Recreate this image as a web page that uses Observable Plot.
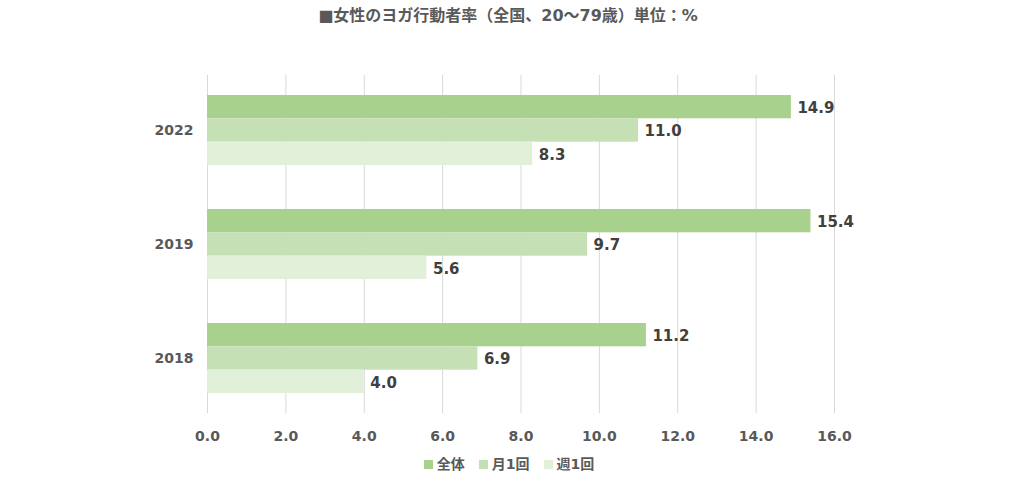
<!DOCTYPE html>
<html>
<head>
<meta charset="utf-8">
<script src="https://cdn.jsdelivr.net/npm/d3@7"></script>
<script src="https://cdn.jsdelivr.net/npm/@observablehq/plot@0.6"></script>
<style>
  html, body { margin: 0; padding: 0; background: #fff; }
  body { width: 1012px; height: 482px; overflow: hidden; font-family: "DejaVu Sans", "Noto Sans CJK JP", sans-serif; }
  #title { height: 32px; line-height: 32px; text-align: center; font-size: 16px; font-weight: bold; color: #595959; padding-left: 4px; }
  #legend { display: flex; justify-content: center; gap: 14px; font-size: 14px; font-weight: bold; color: #595959; height: 24px; line-height: 24px; padding-left: 6px; }
  #legend span.sw { display: inline-block; width: 9px; height: 9px; margin-right: 4px; vertical-align: 0px; }
  svg text { font-family: "DejaVu Sans", "Noto Sans CJK JP", sans-serif; }
</style>
</head>
<body>
<div id="title">■女性のヨガ行動者率（全国、20～79歳）単位：%</div>
<div id="chart"></div>
<div id="legend"></div>
<script>
const years = ["2022", "2019", "2018"];
const series = ["全体", "月1回", "週1回"];
const valuesAll = [14.9, 15.4, 11.2];
const valuesMonthly = [11.0, 9.7, 6.9];
const valuesWeekly = [8.3, 5.6, 4.0];
const colors = ["#A9D18E", "#C5E0B4", "#E2F0D9"];
const xTicks = [0, 2, 4, 6, 8, 10, 12, 14, 16];

const seriesValues = [valuesAll, valuesMonthly, valuesWeekly];
const rows = [];
series.forEach((s, i) => years.forEach((y, j) => rows.push({series: s, year: y, value: seriesValues[i][j], idx: i})));

const width = 1012, height = 420;
const marginTop = 43, marginBottom = 39, marginLeft = 207, marginRight = 178;
const pInner = 0.386, pOuter = 0.175;
const plotH = height - marginTop - marginBottom;
const step = plotH / (years.length - pInner + 2 * pOuter);
const bw = step * (1 - pInner);
const third = bw / 3;

const marks = [Plot.gridX(xTicks, {stroke: "#d9d9d9", strokeOpacity: 1})];
series.forEach((s, i) => {
  const data = rows.filter(d => d.series === s);
  marks.push(Plot.barX(data, {
    x: "value", y: "year", fill: colors[i],
    insetTop: i * third, insetBottom: (2 - i) * third
  }));
  marks.push(Plot.text(data, {
    x: "value", y: "year", text: d => d.value.toFixed(1),
    dx: 6, dy: (i - 1) * third + 1, textAnchor: "start",
    fill: "#404040", fontSize: 15, fontWeight: "bold"
  }));
});

const chart = Plot.plot({
  width, height, marginTop, marginBottom, marginLeft, marginRight,
  x: {domain: [0, 16], ticks: xTicks, tickFormat: d => d.toFixed(1), tickSize: 0, tickPadding: 18, label: null},
  y: {domain: years, paddingInner: pInner, paddingOuter: pOuter, tickSize: 0, tickPadding: 14, label: null},
  style: {fontSize: "14px", fontWeight: "bold", color: "#595959", background: "#fff"},
  marks
});
document.getElementById("chart").appendChild(chart);

const legend = document.getElementById("legend");
series.forEach((s, i) => {
  const item = document.createElement("div");
  item.innerHTML = `<span class="sw" style="background:${colors[i]}"></span>${s}`;
  legend.appendChild(item);
});
</script>
</body>
</html>
